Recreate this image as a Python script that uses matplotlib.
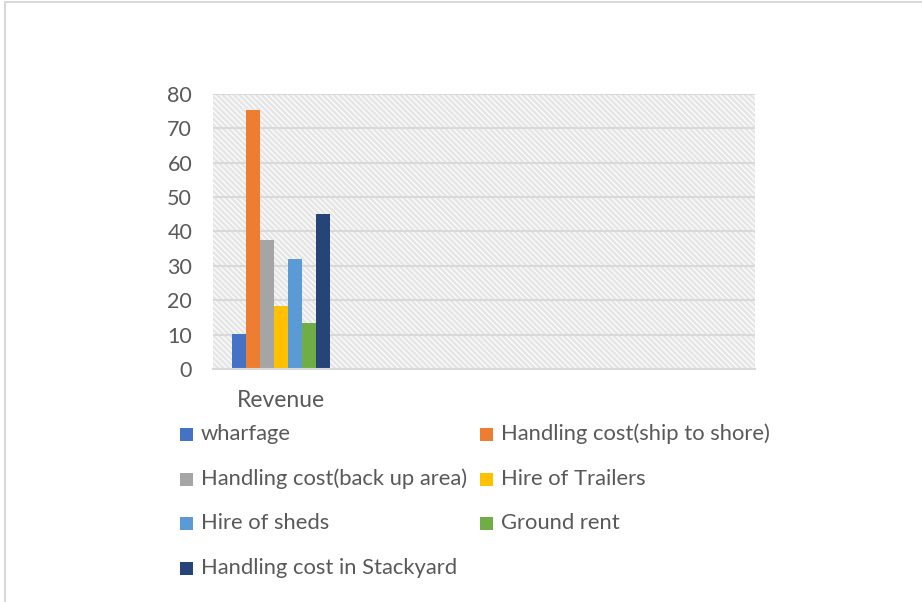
import matplotlib
matplotlib.use("Agg")
import matplotlib.pyplot as plt
from matplotlib.patches import Rectangle

# revenue share per item; the chart keeps three empty category slots after it
categories = ["Revenue", "", "", ""]
series = ["wharfage", "Handling cost(ship to shore)",
          "Handling cost(back up area)", "Hire of Trailers",
          "Hire of sheds", "Ground rent", "Handling cost in Stackyard"]
values = [10.2, 75.3, 37.6, 18.4, 32.0, 13.4, 45.1]
colors = ["#4472c4", "#ed7d31", "#a5a5a5", "#ffc000",
          "#5b9bd5", "#70ad47", "#264478"]
yticks = [0, 10, 20, 30, 40, 50, 60, 70, 80]

plt.rcParams["font.family"] = ["Lato", "DejaVu Sans"]
plt.rcParams["hatch.linewidth"] = 2.0
TXT = "#595959"
GRID = "#d9d9d9"

fig = plt.figure(figsize=(9.22, 6.02), dpi=100)
ax = fig.add_axes([0.231, 0.387, 0.588, 0.457])

# hatched plot-area fill
ax.add_patch(Rectangle((0, 0), 1, 1, transform=ax.transAxes,
                       facecolor="white", edgecolor="#e6e6e6",
                       hatch="\\\\\\\\\\\\", lw=0, zorder=0))

bw = 0.103
n = len(series)
for i, (name, v, c) in enumerate(zip(series, values, colors)):
    ax.bar(0 + (i - (n - 1) / 2) * bw, v, width=bw, color=c,
           label=name, zorder=3)

ax.set_xlim(-0.5, len(categories) - 0.5)
ax.set_ylim(0, 80)
ax.set_yticks(yticks)
ax.set_xticks(range(len(categories)))
ax.set_xticklabels(categories)
ax.tick_params(length=0, colors=TXT)
ax.tick_params(axis="x", labelsize=16.5, pad=15)
ax.tick_params(axis="y", labelsize=15.5, pad=15)
ax.grid(axis="y", color=GRID, lw=1.5, zorder=1)
for s in ["left", "right", "top"]:
    ax.spines[s].set_visible(False)
ax.spines["bottom"].set_color(GRID)
ax.spines["bottom"].set_linewidth(1.5)
ax.spines["bottom"].set_zorder(4)

# legend laid out row by row in two columns
col_x = [180, 480]
row_y = [434, 479, 523, 568]
W, H = 922, 602
for i, (name, c) in enumerate(zip(series, colors)):
    px = col_x[i % 2]
    py = row_y[i // 2]
    fig.add_artist(Rectangle(((px) / W, 1 - (py + 6.5) / H), 13 / W, 13 / H,
                             transform=fig.transFigure, facecolor=c,
                             edgecolor="none"))
    fig.text((px + 21) / W, 1 - py / H, name, fontsize=15.8, color=TXT,
             va="center", ha="left")

# outer chart border
fig.add_artist(Rectangle((5 / W, -0.01), 1.0, 1 - 2 / H + 0.01,
                         transform=fig.transFigure, facecolor="none",
                         edgecolor=GRID, lw=1.5))

fig.savefig("out.png", dpi=100)
